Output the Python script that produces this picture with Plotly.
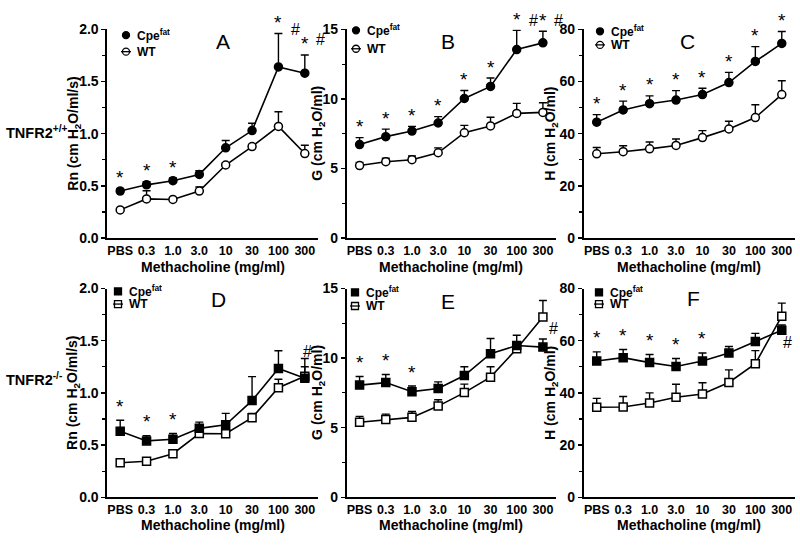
import plotly.graph_objects as go

# ---------------- data ----------------
doses = ["PBS", "0.3", "1.0", "3.0", "10", "30", "100", "300"]

# TNFR2+/+  (top row)
rn_pos_cpe = [0.45, 0.51, 0.55, 0.61, 0.865, 1.03, 1.64, 1.58]
rn_pos_cpe_err = [0.025, 0.03, 0.025, 0.035, 0.07, 0.07, 0.32, 0.175]
rn_pos_wt = [0.27, 0.375, 0.37, 0.45, 0.70, 0.877, 1.07, 0.81]
rn_pos_wt_err = [0.01, 0.078, 0.01, 0.04, 0.02, 0.02, 0.14, 0.08]

g_pos_cpe = [6.72, 7.29, 7.69, 8.27, 10.03, 10.9, 13.55, 14.03]
g_pos_cpe_err = [0.5, 0.54, 0.34, 0.46, 0.58, 0.6, 1.38, 0.83]
g_pos_wt = [5.21, 5.49, 5.63, 6.13, 7.57, 8.06, 8.96, 9.03]
g_pos_wt_err = [0.23, 0.25, 0.27, 0.35, 0.53, 0.62, 0.72, 0.69]

h_pos_cpe = [44.4, 49.1, 51.5, 52.9, 55.0, 59.6, 67.7, 74.6]
h_pos_cpe_err = [2.9, 3.4, 3.0, 3.6, 2.4, 3.9, 5.7, 4.6]
h_pos_wt = [32.3, 33.1, 34.2, 35.5, 38.5, 41.8, 46.2, 55.0]
h_pos_wt_err = [2.4, 2.3, 2.6, 2.5, 2.7, 3.0, 4.9, 5.3]

# TNFR2-/-  (bottom row)
rn_neg_cpe = [0.632, 0.54, 0.556, 0.66, 0.694, 0.926, 1.234, 1.14]
rn_neg_cpe_err = [0.106, 0.05, 0.055, 0.06, 0.11, 0.23, 0.17, 0.11]
rn_neg_wt = [0.33, 0.345, 0.417, 0.61, 0.608, 0.762, 1.05, 1.16]
rn_neg_wt_err = [0.01, 0.01, 0.015, 0.02, 0.02, 0.04, 0.08, 0.17]

g_neg_cpe = [8.06, 8.24, 7.59, 7.82, 8.75, 10.32, 10.9, 10.79]
g_neg_cpe_err = [0.62, 0.58, 0.4, 0.47, 0.63, 1.09, 0.74, 0.58]
g_neg_wt = [5.39, 5.58, 5.74, 6.55, 7.52, 8.63, 10.67, 12.96]
g_neg_wt_err = [0.42, 0.39, 0.42, 0.46, 0.61, 0.75, 0.33, 1.18]

h_neg_cpe = [52.2, 53.5, 51.6, 50.1, 52.2, 55.3, 59.7, 64.0]
h_neg_cpe_err = [3.5, 3.1, 3.1, 3.1, 3.1, 2.5, 3.1, 2.0]
h_neg_wt = [34.5, 34.6, 36.1, 38.3, 39.6, 44.0, 51.2, 69.4]
h_neg_wt_err = [3.4, 4.0, 3.9, 5.0, 4.3, 4.8, 5.0, 5.0]

# significance marks (indices of doses with "*")
stars_A = [0, 1, 2, 6, 7]
stars_B = [0, 1, 2, 3, 4, 5, 6, 7]
stars_C = [0, 1, 2, 3, 4, 5, 6, 7]
stars_D = [0, 1, 2]
stars_E = [0, 1, 2]
stars_F = [0, 1, 2, 3, 4]

# ---------------- layout helpers ----------------
W, H = 800, 546
FONT = "Liberation Sans"


def px(x):
    return x / W


def py(y):
    return 1 - y / H


col_px = [(107, 318), (346.5, 556), (583.5, 795)]
row_px = [(22, 237), (289, 504)]

panels = [
    dict(letter="A", row=0, col=0, cpe=rn_pos_cpe, cpe_err=rn_pos_cpe_err, wt=rn_pos_wt, wt_err=rn_pos_wt_err,
         yr=[0, 2], dt=0.5, minor=0.25, fmt=".1f", title="Rn (cm H<sub>2</sub>O/ml/s)", sym="circle",
         stars=stars_A, hashes=[(295, 22), (320, 32)], letter_pos=(223, 35),
         leg=(126, 28, 45), ytitle_x=74),
    dict(letter="B", row=0, col=1, cpe=g_pos_cpe, cpe_err=g_pos_cpe_err, wt=g_pos_wt, wt_err=g_pos_wt_err,
         yr=[0, 15], dt=5, minor=2.5, fmt="", title="G (cm H<sub>2</sub>O/ml)", sym="circle",
         stars=stars_B, hashes=[(533, 13), (558, 13)], letter_pos=(448, 35),
         leg=(356, 23, 42), ytitle_x=318),
    dict(letter="C", row=0, col=2, cpe=h_pos_cpe, cpe_err=h_pos_cpe_err, wt=h_pos_wt, wt_err=h_pos_wt_err,
         yr=[0, 80], dt=20, minor=10, fmt="", title="H (cm H<sub>2</sub>O/ml)", sym="circle",
         stars=stars_C, hashes=[], letter_pos=(687, 35),
         leg=(600, 24, 38), ytitle_x=551),
    dict(letter="D", row=1, col=0, cpe=rn_neg_cpe, cpe_err=rn_neg_cpe_err, wt=rn_neg_wt, wt_err=rn_neg_wt_err,
         yr=[0, 2], dt=0.5, minor=0.25, fmt=".1f", title="Rn (cm H<sub>2</sub>O/ml/s)", sym="square",
         stars=stars_D, hashes=[(307, 354)], letter_pos=(218, 300),
         leg=(118, 292, 305), ytitle_x=73),
    dict(letter="E", row=1, col=1, cpe=g_neg_cpe, cpe_err=g_neg_cpe_err, wt=g_neg_wt, wt_err=g_neg_wt_err,
         yr=[0, 15], dt=5, minor=2.5, fmt="", title="G (cm H<sub>2</sub>O/ml)", sym="square",
         stars=stars_E, hashes=[(553, 330)], letter_pos=(448, 302),
         leg=(355, 293, 307), ytitle_x=318),
    dict(letter="F", row=1, col=2, cpe=h_neg_cpe, cpe_err=h_neg_cpe_err, wt=h_neg_wt, wt_err=h_neg_wt_err,
         yr=[0, 80], dt=20, minor=10, fmt="", title="H (cm H<sub>2</sub>O/ml)", sym="square",
         stars=stars_F, hashes=[(787, 345)], letter_pos=(693, 299),
         leg=(599, 293, 305), ytitle_x=551),
]

fig = go.Figure()
layout = dict(
    width=W, height=H, autosize=False,
    margin=dict(l=0, r=0, t=0, b=0),
    paper_bgcolor="white", plot_bgcolor="white",
    showlegend=False, hovermode=False,
    font=dict(family=FONT, color="black"),
)
annotations = []
shapes = []
xpos = list(range(len(doses)))

for i, p in enumerate(panels, start=1):
    xa = "x" if i == 1 else f"x{i}"
    ya = "y" if i == 1 else f"y{i}"
    x0, x1 = col_px[p["col"]]
    y0, y1 = row_px[p["row"]]
    layout["xaxis" if i == 1 else f"xaxis{i}"] = dict(
        domain=[px(x0), px(x1)], anchor=ya, range=[-0.5, len(doses) - 0.5],
        tickvals=xpos, ticktext=doses, ticks="", showline=True, linecolor="black",
        linewidth=1.6, showgrid=False, zeroline=False,
        tickfont=dict(family=FONT, size=12.5, color="black", weight="bold"),
    )
    yax = dict(
        domain=[py(y1), py(y0)], anchor=xa, range=p["yr"], dtick=p["dt"], tick0=0,
        ticks="outside", ticklen=4, tickwidth=1.4, tickcolor="black",
        showline=True, linecolor="black", linewidth=1.6, showgrid=False, zeroline=False,
        tickfont=dict(family=FONT, size=14, color="black", weight="bold"),
        minor=dict(dtick=p["minor"], tick0=0, ticks="outside", ticklen=3, tickwidth=1.2,
                   tickcolor="black", showgrid=False),
    )
    if p["fmt"]:
        yax["tickformat"] = p["fmt"]
    layout["yaxis" if i == 1 else f"yaxis{i}"] = yax

    for name, vals, err, filled in [("WT", p["wt"], p["wt_err"], False),
                                    ("Cpe", p["cpe"], p["cpe_err"], True)]:
        fig.add_trace(go.Scatter(
            x=xpos, y=vals, xaxis=xa, yaxis=ya, mode="lines+markers", name=name,
            line=dict(color="black", width=1.6), cliponaxis=False,
            marker=dict(symbol=p["sym"], size=8, color="black" if filled else "white",
                        line=dict(color="black", width=1.5)),
            error_y=dict(type="data", symmetric=False, array=err, arrayminus=[0] * len(err),
                         color="black", thickness=1.4, width=4),
        ))

    # stars above Cpe error bars
    shift = 11 if p["row"] == 0 else 14
    for k in p["stars"]:
        annotations.append(dict(
            x=k, y=p["cpe"][k] + p["cpe_err"][k], xref=xa, yref=ya, text="*", showarrow=False,
            font=dict(family=FONT, size=19, color="black"), xanchor="center", yanchor="middle",
            yshift=shift,
        ))
    for hx, hy in p["hashes"]:
        annotations.append(dict(
            x=px(hx), y=py(hy), xref="paper", yref="paper", text="#", showarrow=False,
            font=dict(family=FONT, size=16, color="black"), xanchor="center", yanchor="middle",
        ))

    # panel letter
    lx, ly = p["letter_pos"]
    annotations.append(dict(x=px(lx), y=py(ly), xref="paper", yref="paper", text=p["letter"],
                            showarrow=False, font=dict(family=FONT, size=21, color="black"),
                            xanchor="center", yanchor="middle"))
    # y title
    annotations.append(dict(x=px(p["ytitle_x"]), y=py((y0 + y1) / 2), xref="paper", yref="paper",
                            text=p["title"], textangle=-90, showarrow=False,
                            font=dict(family=FONT, size=14, color="black", weight="bold"),
                            xanchor="center", yanchor="middle"))
    # x title
    annotations.append(dict(x=px((x0 + x1) / 2), y=py(267 if p["row"] == 0 else 533), xref="paper",
                            yref="paper", text="Methacholine (mg/ml)", showarrow=False,
                            font=dict(family=FONT, size=14, color="black", weight="bold"),
                            xanchor="center", yanchor="middle"))
    # legend keys
    mx, cy, wy = p["leg"]
    stype = "circle" if p["sym"] == "circle" else "rect"
    for yy, filled, label in [(cy, True, "Cpe<sup>fat</sup>"), (wy, False, "WT")]:
        if not filled:
            shapes.append(dict(type="line", xref="paper", yref="paper", xsizemode="pixel",
                               ysizemode="pixel", xanchor=px(mx), yanchor=py(yy),
                               x0=-5, x1=5, y0=0, y1=0, line=dict(color="black", width=1.3)))
        shapes.append(dict(type=stype, xref="paper", yref="paper", xsizemode="pixel",
                           ysizemode="pixel", xanchor=px(mx), yanchor=py(yy),
                           x0=-3.5, x1=3.5, y0=-3.5, y1=3.5,
                           fillcolor="black" if filled else "rgba(0,0,0,0)",
                           line=dict(color="black", width=1.3)))
        annotations.append(dict(x=px(mx + 9), y=py(yy), xref="paper", yref="paper", text=label,
                                showarrow=False, xanchor="left", yanchor="middle",
                                font=dict(family=FONT, size=12, color="black", weight="bold")))

# row labels
annotations.append(dict(x=px(4), y=py(128), xref="paper", yref="paper", text="TNFR2<sup>+/+</sup>",
                        showarrow=False, xanchor="left", yanchor="middle",
                        font=dict(family=FONT, size=14.5, color="black", weight="bold")))
annotations.append(dict(x=px(4), y=py(382), xref="paper", yref="paper", text="TNFR2<sup>-/-</sup>",
                        showarrow=False, xanchor="left", yanchor="middle",
                        font=dict(family=FONT, size=14.5, color="black", weight="bold")))

layout["annotations"] = annotations
layout["shapes"] = shapes
fig.update_layout(**layout)
# remove the default page margin so the figure starts at the window's top-left corner
fig.write_html("out.html", config={"displayModeBar": False, "staticPlot": True},
               post_script="document.body.style.margin='0';document.body.style.overflow='hidden';")
